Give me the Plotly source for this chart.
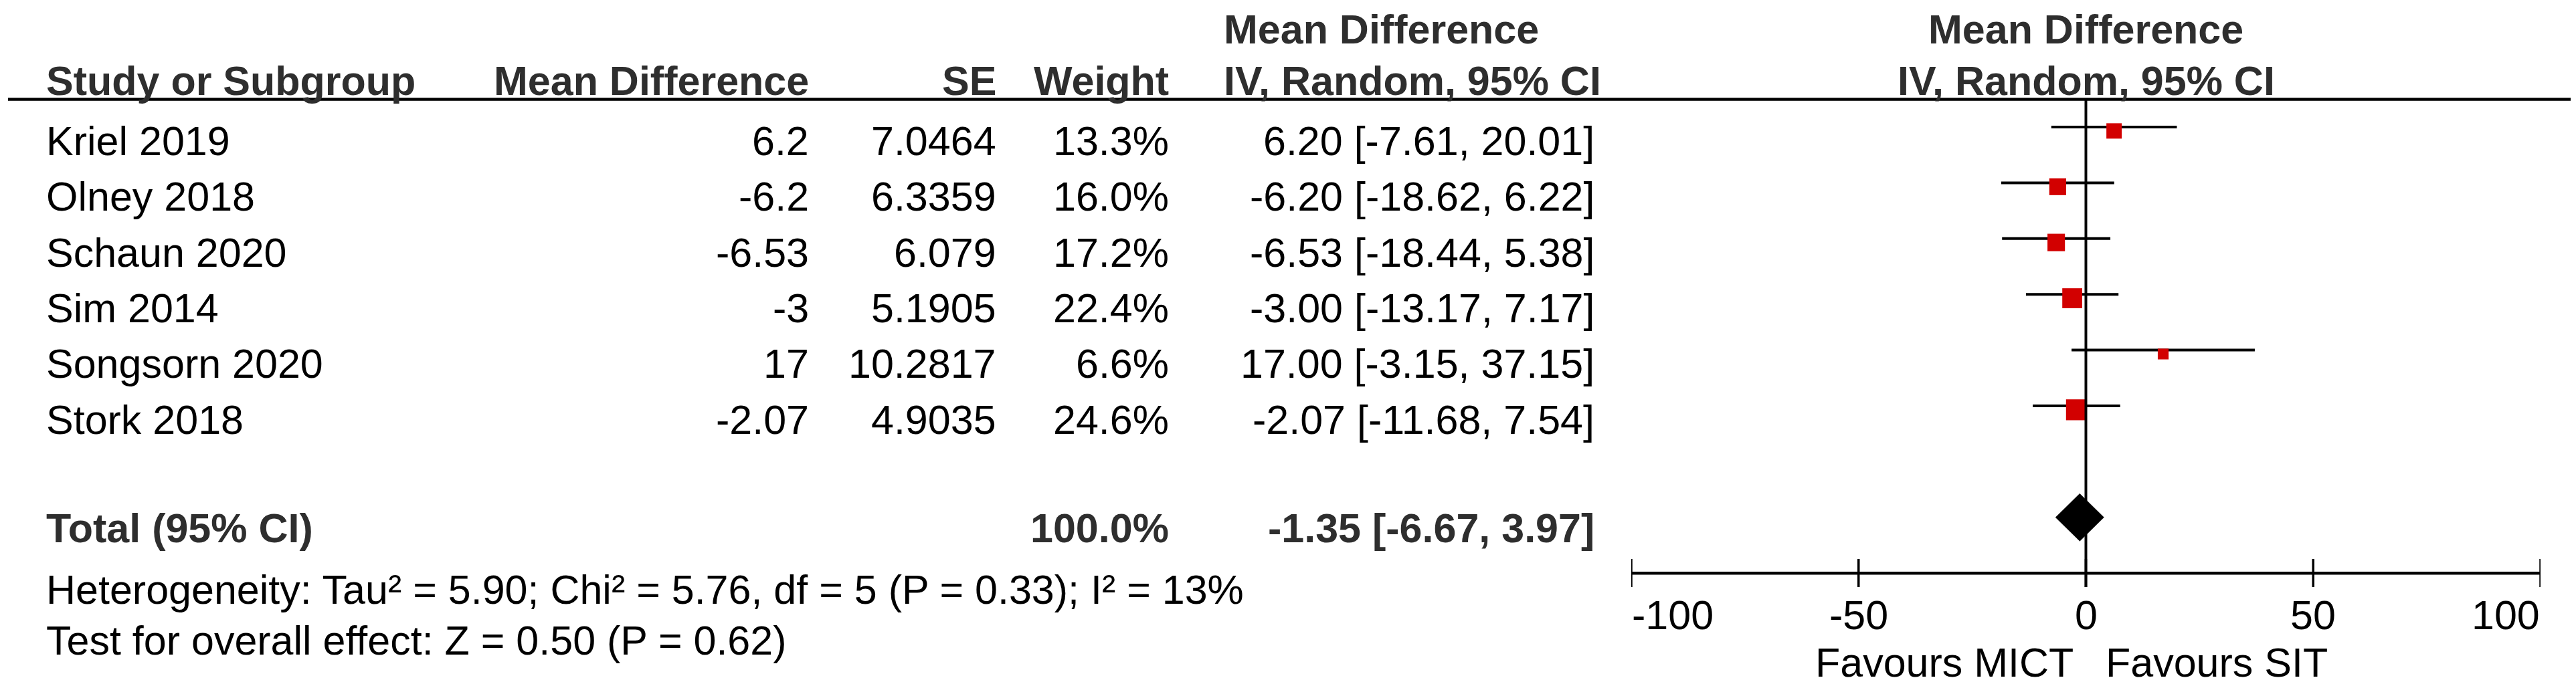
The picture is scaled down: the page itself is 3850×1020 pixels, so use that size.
import plotly.graph_objects as go

# ---------------- data ----------------
studies = ["Kriel 2019", "Olney 2018", "Schaun 2020", "Sim 2014", "Songsorn 2020", "Stork 2018"]
mean_diff = [6.2, -6.2, -6.53, -3, 17, -2.07]
se_vals = [7.0464, 6.3359, 6.079, 5.1905, 10.2817, 4.9035]
weights = [13.3, 16.0, 17.2, 22.4, 6.6, 24.6]
ci_low = [-7.61, -18.62, -18.44, -13.17, -3.15, -11.68]
ci_high = [20.01, 6.22, 5.38, 7.17, 37.15, 7.54]

total_label = "Total (95% CI)"
total_weight = 100.0
total_md = -1.35
total_low = -6.67
total_high = 3.97

heterogeneity = "Heterogeneity: Tau² = 5.90; Chi² = 5.76, df = 5 (P = 0.33); I² = 13%"
overall_effect = "Test for overall effect: Z = 0.50 (P = 0.62)"

tick_vals = [-100, -50, 0, 50, 100]
tick_text = ["-100", "-50", "0", "50", "100"]
favours_left = "Favours MICT"
favours_right = "Favours SIT"

col_headers = ["Study or Subgroup", "Mean Difference", "SE", "Weight"]
ci_header = ["Mean Difference", "IV, Random, 95% CI"]

# ---------------- layout constants ----------------
W, H = 3850, 1020
FONT = "Liberation Sans, Arial, sans-serif"
FS = 61
ROW0_PX = 182.0
ROW_PX = 83.4
Y_TOP = -ROW0_PX / ROW_PX
Y_BOT = (H - ROW0_PX) / ROW_PX
TOTAL_ROW = 7
AXIS_ROW = 8
TEXT_OFF = 0.25
BOLD_COL = "#2e2e2e"
RED = "#d20000"

def px(xp):
    return xp / W

def row_of(ypx):
    return (ypx - ROW0_PX) / ROW_PX

fig = go.Figure()

rows = list(range(len(studies)))

# CI lines
lx, ly = [], []
for r, lo, hi in zip(rows, ci_low, ci_high):
    lx += [lo, hi, None]
    ly += [r, r, None]
fig.add_trace(go.Scatter(x=lx, y=ly, mode="lines",
                         line=dict(color="black", width=4),
                         hoverinfo="skip", showlegend=False))

# squares sized by weight
sizes = [6.3 * (w ** 0.5) for w in weights]
fig.add_trace(go.Scatter(x=mean_diff, y=[r + 0.07 for r in rows], mode="markers",
                         marker=dict(symbol="square", size=sizes, color=RED,
                                     line=dict(width=0), opacity=1),
                         hoverinfo="skip", showlegend=False))

# diamond for total
dh = 0.426
fig.add_trace(go.Scatter(
    x=[total_low, total_md, total_high, total_md, total_low],
    y=[TOTAL_ROW, TOTAL_ROW - dh, TOTAL_ROW, TOTAL_ROW + dh, TOTAL_ROW],
    mode="lines", fill="toself", fillcolor="black",
    line=dict(color="black", width=0.5),
    hoverinfo="skip", showlegend=False))

shapes = []
# header rule
shapes.append(dict(type="line", xref="paper", yref="y", x0=px(4), x1=px(3848),
                   y0=row_of(140.5), y1=row_of(140.5), line=dict(color="black", width=4.5)))
# zero line
shapes.append(dict(type="line", xref="x", yref="y", x0=0, x1=0,
                   y0=row_of(140.5), y1=row_of(870), line=dict(color="black", width=4)))
# axis line
shapes.append(dict(type="line", xref="x", yref="y", x0=tick_vals[0], x1=tick_vals[-1],
                   y0=AXIS_ROW, y1=AXIS_ROW, line=dict(color="black", width=4.5)))
for tv in tick_vals:
    shapes.append(dict(type="line", xref="x", yref="y", x0=tv, x1=tv,
                       y0=row_of(828), y1=row_of(870),
                       line=dict(color="black", width=3.5)))

ann = []

def txt(x, y, s, anchor="left", bold=False, xref="paper"):
    ann.append(dict(x=x, y=y, xref=xref, yref="y", text=(f"<b>{s}</b>" if bold else s),
                    showarrow=False, xanchor=anchor, yanchor="middle", borderpad=0,
                    font=dict(family=FONT, size=FS, color=(BOLD_COL if bold else "black"))))

# headers
hy2 = row_of(112.5)
hy1 = row_of(35.5)
txt(px(60), hy2, col_headers[0], "left", True)
txt(px(1202), hy2, col_headers[1], "right", True)
txt(px(1482), hy2, col_headers[2], "right", True)
txt(px(1740), hy2, col_headers[3], "right", True)
txt(px(1820), hy1, ci_header[0], "left", True)
txt(px(1820), hy2, ci_header[1], "left", True)
txt(0, hy1, ci_header[0], "center", True, xref="x")
txt(0, hy2, ci_header[1], "center", True, xref="x")

# study rows
for r, s, md, se, w, lo, hi in zip(rows, studies, mean_diff, se_vals, weights, ci_low, ci_high):
    y = r + TEXT_OFF
    txt(px(60), y, s, "left")
    txt(px(1202), y, f"{md:g}", "right")
    txt(px(1482), y, f"{se:g}", "right")
    txt(px(1740), y, f"{w:.1f}%", "right")
    txt(px(2376), y, f"{md:.2f} [{lo:.2f}, {hi:.2f}]", "right")

# total row
ty = TOTAL_ROW + 0.19
txt(px(60), ty, total_label, "left", True)
txt(px(1740), ty, f"{total_weight:.1f}%", "right", True)
txt(px(2376), ty, f"{total_md:.2f} [{total_low:.2f}, {total_high:.2f}]", "right", True)

# footer
txt(px(60), row_of(873.5), heterogeneity, "left")
txt(px(60), row_of(949.5), overall_effect, "left")

# tick labels
for i, (tv, tt) in enumerate(zip(tick_vals, tick_text)):
    anchor = "left" if i == 0 else ("right" if i == len(tick_vals) - 1 else "center")
    txt(tv, row_of(911.5), tt, anchor, xref="x")

txt(px(3092), row_of(982.5), favours_left, "right")
txt(px(3138), row_of(982.5), favours_right, "left")

fig.update_layout(
    width=W, height=H,
    margin=dict(l=0, r=0, t=0, b=0, pad=0),
    paper_bgcolor="white", plot_bgcolor="white",
    xaxis=dict(domain=[2430 / W, 3789 / W], range=[-100, 100], visible=False,
               showgrid=False, zeroline=False, fixedrange=True),
    yaxis=dict(domain=[0, 1], range=[Y_BOT, Y_TOP], visible=False,
               showgrid=False, zeroline=False, fixedrange=True),
    shapes=shapes, annotations=ann, showlegend=False,
)

fig.write_html("out.html", config={"displayModeBar": False})
